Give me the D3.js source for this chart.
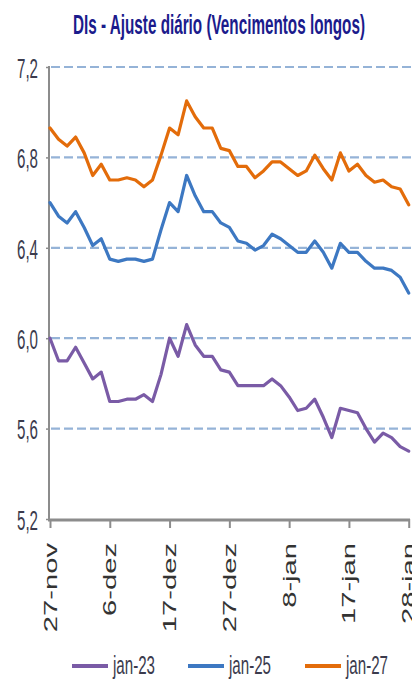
<!DOCTYPE html>
<html>
<head>
<meta charset="utf-8">
<script src="https://cdn.jsdelivr.net/npm/d3@7"></script>
<style>
  body { margin: 0; background: #fff; }
  svg { display: block; }
</style>
</head>
<body>
<svg id="chart" width="412" height="680"></svg>
<script>
// Trading days, late Nov to late Jan
const dates = [
  "27-nov","28-nov","29-nov",
  "2-dez","3-dez","4-dez","5-dez","6-dez","9-dez","10-dez","11-dez","12-dez","13-dez",
  "16-dez","17-dez","18-dez","19-dez","20-dez","23-dez","24-dez","26-dez","27-dez","30-dez","31-dez",
  "2-jan","3-jan","6-jan","7-jan","8-jan","9-jan","10-jan","13-jan","14-jan","15-jan","16-jan","17-jan",
  "20-jan","21-jan","22-jan","23-jan","24-jan","27-jan","28-jan"
];

// Daily settlement rates (%) per DI contract
const jan23 = [
  6.00, 5.90, 5.90, 5.96, 5.89, 5.82, 5.85, 5.72, 5.72, 5.73, 5.73, 5.75, 5.72,
  5.84, 6.00, 5.92, 6.06, 5.97, 5.92, 5.92, 5.86, 5.85, 5.79, 5.79,
  5.79, 5.79, 5.82, 5.79, 5.74, 5.68, 5.69, 5.73, 5.65, 5.56, 5.69, 5.68,
  5.67, 5.60, 5.54, 5.58, 5.56, 5.52, 5.50
];
const jan25 = [
  6.60, 6.54, 6.51, 6.56, 6.49, 6.41, 6.44, 6.35, 6.34, 6.35, 6.35, 6.34, 6.35,
  6.48, 6.60, 6.56, 6.72, 6.63, 6.56, 6.56, 6.51, 6.49, 6.43, 6.42,
  6.39, 6.41, 6.46, 6.44, 6.41, 6.38, 6.38, 6.43, 6.38, 6.31, 6.42, 6.38,
  6.38, 6.34, 6.31, 6.31, 6.30, 6.27, 6.20
];
const jan27 = [
  6.93, 6.88, 6.85, 6.89, 6.82, 6.72, 6.77, 6.70, 6.70, 6.71, 6.70, 6.67, 6.70,
  6.81, 6.93, 6.90, 7.05, 6.98, 6.93, 6.93, 6.84, 6.83, 6.76, 6.76,
  6.71, 6.74, 6.78, 6.78, 6.75, 6.72, 6.74, 6.81, 6.75, 6.70, 6.82, 6.74,
  6.77, 6.72, 6.69, 6.70, 6.67, 6.66, 6.59
];

const seriesNames = ["jan-23", "jan-25", "jan-27"];
const seriesColors = ["#7a5ba6", "#3d78c2", "#e36c0a"];
const yTicks = [5.2, 5.6, 6.0, 6.4, 6.8, 7.2];
const xTickLabels = ["27-nov", "6-dez", "17-dez", "27-dez", "8-jan", "17-jan", "28-jan"];
const title = "DIs - Ajuste diário (Vencimentos longos)";

const svg = d3.select("#chart");
const plotLeft = 49, plotRight = 408.7, plotTop = 67, plotBottom = 519;

const x = d3.scalePoint().domain(dates).range([50, plotRight]);
const y = d3.scaleLinear().domain([5.2, 7.2]).range([plotBottom, plotTop]);
const ptBR = d3.formatLocale({ decimal: ",", thousands: ".", grouping: [3], currency: ["R$", ""] });
const fmt = ptBR.format(".1f");

// Title
svg.append("text")
  .attr("x", 219).attr("y", 34)
  .attr("text-anchor", "middle")
  .attr("font-family", "'Liberation Sans', Arial, sans-serif")
  .attr("font-weight", "bold")
  .attr("font-size", 28)
  .attr("fill", "#1b1b8c")
  .attr("textLength", 292)
  .attr("lengthAdjust", "spacingAndGlyphs")
  .text(title);

// Dashed horizontal gridlines
svg.append("g")
  .selectAll("line")
  .data(yTicks.filter(d => d > 5.2))
  .join("line")
  .attr("x1", 51).attr("x2", 412)
  .attr("y1", d => y(d)).attr("y2", d => y(d))
  .attr("stroke", "#95b3d7")
  .attr("stroke-width", 2.2)
  .attr("stroke-dasharray", "9 4");

// Y axis
const yAxis = svg.append("g")
  .attr("transform", `translate(${plotLeft},0)`)
  .call(d3.axisLeft(y).tickValues(yTicks).tickSize(3).tickFormat(fmt));
yAxis.select(".domain").remove();
yAxis.selectAll(".tick line").attr("stroke", "#8c8c8c").attr("stroke-width", 1.5);
yAxis.selectAll(".tick text")
  .attr("x", -11)
  .attr("dy", "0.38em")
  .attr("font-family", "'Liberation Sans', Arial, sans-serif")
  .attr("font-size", 27)
  .attr("fill", "#3b3b4d")
  .attr("textLength", 21)
  .attr("lengthAdjust", "spacingAndGlyphs");
svg.append("line")
  .attr("x1", plotLeft).attr("x2", plotLeft)
  .attr("y1", plotTop - 1).attr("y2", plotBottom + 1)
  .attr("stroke", "#8c8c8c").attr("stroke-width", 2);

// X axis
const xAxis = svg.append("g")
  .attr("transform", `translate(0,${plotBottom})`)
  .call(d3.axisBottom(x).tickValues(xTickLabels).tickSize(9).tickSizeOuter(0));
xAxis.select(".domain").remove();
xAxis.selectAll(".tick line").attr("stroke", "#8c8c8c").attr("stroke-width", 2);
xAxis.selectAll(".tick text")
  .attr("font-family", "'Liberation Sans', Arial, sans-serif")
  .attr("font-size", 18)
  .attr("fill", "#333")
  .attr("text-anchor", "end")
  .attr("dy", null)
  .attr("transform", "translate(6,24) rotate(-90)")
  .attr("x", 0).attr("y", 0)
  .each(function () {
    const len = this.getComputedTextLength();
    d3.select(this).attr("textLength", len * 1.62).attr("lengthAdjust", "spacingAndGlyphs");
  });
svg.append("line")
  .attr("x1", plotLeft - 1).attr("x2", 410)
  .attr("y1", plotBottom + 1).attr("y2", plotBottom + 1)
  .attr("stroke", "#8c8c8c").attr("stroke-width", 3);

// Series lines
const line = d3.line()
  .x((d, i) => x(dates[i]))
  .y(d => y(d));
[jan23, jan25, jan27].forEach((vals, k) => {
  svg.append("path")
    .datum(vals)
    .attr("fill", "none")
    .attr("stroke", seriesColors[k])
    .attr("stroke-width", 3.2)
    .attr("stroke-linejoin", "round")
    .attr("stroke-linecap", "round")
    .attr("d", line);
});

// Legend
const legendX = [72, 188, 305];
const legend = svg.append("g");
seriesNames.forEach((name, k) => {
  legend.append("line")
    .attr("x1", legendX[k]).attr("x2", legendX[k] + 36)
    .attr("y1", 666).attr("y2", 666)
    .attr("stroke", seriesColors[k]).attr("stroke-width", 4);
  legend.append("text")
    .attr("x", legendX[k] + 41).attr("y", 674)
    .attr("font-family", "'Liberation Sans', Arial, sans-serif")
    .attr("font-size", 25)
    .attr("fill", "#3b3b4d")
    .attr("textLength", 42)
    .attr("lengthAdjust", "spacingAndGlyphs")
    .text(name);
});
</script>
</body>
</html>
